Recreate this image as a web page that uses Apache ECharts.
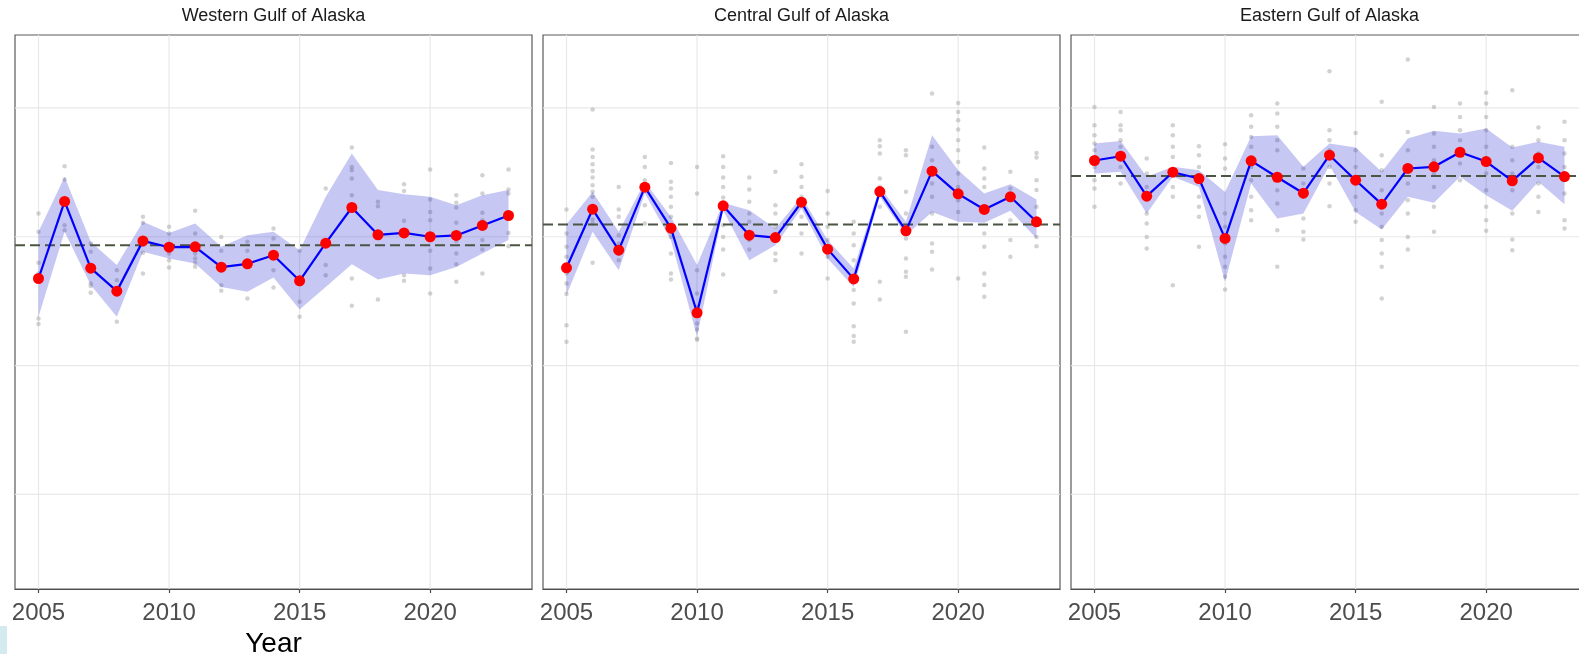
<!DOCTYPE html>
<html><head><meta charset="utf-8">
<script src="https://cdn.jsdelivr.net/npm/echarts@6/dist/echarts.min.js"></script>
<style>html,body{margin:0;padding:0;background:#fff}#c{width:1579px;height:654px}</style>
</head><body><div id="c"></div>
<script>
// ---------------- DATA ----------------
const years = [2005,2006,2007,2008,2009,2010,2011,2012,2013,2014,2015,2016,2017,2018,2019,2020,2021,2022,2023];
const panelTitles = ['Western Gulf of Alaska','Central Gulf of Alaska','Eastern Gulf of Alaska'];
const xTickYears = [2005,2010,2015,2020];
const yGridValues = [0,1,2,3];
const xAxisName = 'Year';

const westMean  = [1.676,2.274,1.756,1.578,1.968,1.919,1.922,1.764,1.790,1.857,1.658,1.950,2.227,2.015,2.030,2.000,2.010,2.088,2.165];
const westLower = [1.379,2.038,1.625,1.379,1.883,1.832,1.793,1.611,1.573,1.684,1.436,1.611,1.787,1.669,1.715,1.702,1.766,1.870,1.974];
const westUpper = [2.038,2.465,1.961,1.780,2.116,2.030,2.103,1.922,2.012,2.038,1.896,2.310,2.646,2.362,2.330,2.310,2.245,2.323,2.362];
const westRef = 1.935;
const westObs = [
[2.180,2.038,1.798,1.715,1.366,1.322],
[2.548,2.444,2.090,2.051],
[1.948,1.883,1.637,1.617,1.565],
[1.741,1.663,1.340],
[2.155,2.108,1.875,1.715],
[2.077,2.025,1.870,1.818,1.761],
[2.201,2.025,1.870,1.831,1.798,1.767],
[1.999,1.891,1.624,1.580],
[1.961,1.891,1.521],
[2.064,1.986,1.741,1.606],
[1.891,1.495,1.379],
[2.374,1.780,1.702],
[2.692,2.542,2.517,2.452,2.323,1.676,1.464],
[2.271,2.237,1.513],
[2.408,2.356,2.124,1.702,1.658],
[2.522,2.289,2.193,2.129,1.891,1.754,1.560],
[2.323,2.263,2.227,2.108,1.968,1.870,1.787,1.650],
[2.478,2.336,2.186,2.129,1.974,1.901,1.715],
[2.522,2.367,2.336,2.030,1.927]
];

const centralMean  = [1.759,2.214,1.896,2.385,2.067,1.410,2.240,2.012,1.994,2.268,1.904,1.673,2.351,2.046,2.509,2.333,2.212,2.310,2.116];
const centralLower = [1.547,2.038,1.741,2.336,1.974,1.223,2.206,1.818,1.935,2.220,1.832,1.611,2.310,2.012,2.193,2.116,2.108,2.201,1.987];
const centralUpper = [2.098,2.348,2.038,2.426,2.154,1.780,2.263,2.206,2.064,2.310,1.974,1.754,2.387,2.116,2.788,2.517,2.336,2.408,2.289];
const centralRef = 2.095;
const centralObs = [
[2.211,2.025,1.922,1.844,1.715,1.637,1.555,1.314,1.185],
[2.987,2.677,2.620,2.563,2.511,2.460,2.400,2.349,2.310,2.134,2.103,1.798],
[2.387,2.211,2.155,2.012,1.948,1.870,1.818],
[2.620,2.542,2.439,2.245,2.103],
[2.573,2.426,2.374,2.310,2.232,2.155,1.999,1.870,1.715,1.668],
[2.542,2.336,1.741,1.560,1.456,1.327,1.280,1.211,1.200],
[2.625,2.542,2.460,2.387,2.305,2.090,1.999,1.901,1.707],
[2.460,2.367,2.271,2.181,2.116,1.974,1.901],
[2.504,2.245,2.181,2.077,1.870,1.818,1.573],
[2.563,2.465,2.387,2.310,2.155,2.025,1.870],
[2.356,2.181,2.077,1.974,1.844,1.676],
[2.116,2.025,1.935,1.818,1.586,1.482,1.306,1.230,1.185],
[2.749,2.703,2.646,2.452,2.387,2.232,1.650,1.513],
[2.672,2.633,2.349,2.181,1.986,1.831,1.728,1.689,1.262],
[3.111,2.698,2.594,2.413,2.310,2.181,1.948,1.883,1.746],
[3.039,2.969,2.904,2.832,2.749,2.672,2.581,2.491,2.387,2.284,2.193,1.676],
[2.692,2.529,2.452,2.387,2.232,2.025,1.922,1.715,1.625,1.534],
[2.504,2.374,2.284,2.129,1.974,1.844],
[2.651,2.615,2.439,2.362,2.232,1.999,1.927]
];

const eastMean  = [2.592,2.625,2.315,2.501,2.452,1.987,2.589,2.462,2.338,2.633,2.439,2.253,2.530,2.543,2.656,2.584,2.434,2.612,2.467];
const eastLower = [2.491,2.504,2.181,2.465,2.387,1.650,2.413,2.142,2.181,2.555,2.193,2.057,2.310,2.263,2.465,2.323,2.201,2.426,2.253];
const eastUpper = [2.724,2.744,2.465,2.543,2.517,2.348,2.780,2.788,2.543,2.724,2.693,2.504,2.763,2.822,2.801,2.840,2.693,2.737,2.698];
const eastRef = 2.472;
const eastObs = [
[3.008,2.866,2.788,2.724,2.672,2.542,2.439,2.374,2.232],
[2.969,2.866,2.827,2.749,2.698,2.542,2.413],
[2.607,2.491,2.387,2.181,2.103,1.999,1.909],
[2.866,2.788,2.698,2.620,2.491,2.387,2.310,1.624],
[2.703,2.633,2.542,2.439,2.310,2.232,2.155,1.922],
[2.718,2.607,2.529,2.181,2.077,1.948,1.844,1.767,1.689,1.591],
[2.943,2.853,2.775,2.698,2.542,2.439,2.310,2.206,2.129],
[3.034,2.956,2.853,2.749,2.672,2.361,2.258,2.051,1.767],
[2.529,2.413,2.310,2.142,2.038,1.978],
[3.285,2.827,2.749,2.672,2.542,2.413,2.237],
[2.806,2.672,2.542,2.439,2.310,2.206,2.116],
[3.047,2.633,2.516,2.361,2.181,2.077,1.974,1.870,1.767,1.521],
[3.375,2.814,2.672,2.542,2.413,2.284,2.181,1.999,1.901],
[3.008,2.801,2.698,2.594,2.491,2.387,2.232,2.038],
[3.034,2.930,2.827,2.749,2.672,2.568,2.439],
[3.117,3.034,2.930,2.827,2.698,2.594,2.491,2.361,2.232,2.129,2.046],
[3.137,2.698,2.594,2.491,2.361,2.181,1.978,1.896],
[2.848,2.749,2.646,2.542,2.413,2.310,2.193],
[2.892,2.749,2.646,2.542,2.439,2.336,2.129,2.064]
];

// ---------------- LAYOUT / STYLE ----------------
const FONT = "'Liberation Sans', Arial, Helvetica, sans-serif";
const X_MIN = 2004.1, X_MAX = 2023.9;
const Y_MIN = -0.734, Y_MAX = 3.566;
const gridLefts = [15, 543, 1071];
const GRID_W = 517, GRID_TOP = 35, GRID_H = 554;

const panels = [
  {mean: westMean, lower: westLower, upper: westUpper, ref: westRef, obs: westObs},
  {mean: centralMean, lower: centralLower, upper: centralUpper, ref: centralRef, obs: centralObs},
  {mean: eastMean, lower: eastLower, upper: eastUpper, ref: eastRef, obs: eastObs}
];

function hLineSeries(gi, values, style, z) {
  return {
    type: 'custom', xAxisIndex: gi, yAxisIndex: gi, z: z, silent: true, clip: false,
    data: values.map(v => [v]), encode: {y: 0},
    renderItem: function (params, api) {
      const cs = params.coordSys;
      const y = api.coord([X_MIN, api.value(0)])[1];
      return {type: 'line', shape: {x1: cs.x, y1: y, x2: cs.x + cs.width, y2: y}, style: style};
    }
  };
}
function vLineSeries(gi, values, style, z) {
  return {
    type: 'custom', xAxisIndex: gi, yAxisIndex: gi, z: z, silent: true, clip: false,
    data: values.map(v => [v]), encode: {x: 0},
    renderItem: function (params, api) {
      const cs = params.coordSys;
      const x = api.coord([api.value(0), Y_MIN])[0];
      return {type: 'line', shape: {x1: x, y1: cs.y, x2: x, y2: cs.y + cs.height}, style: style};
    }
  };
}
function bandSeries(gi, lower, upper, z) {
  return {
    type: 'custom', xAxisIndex: gi, yAxisIndex: gi, z: z, silent: true, clip: false,
    data: years.map((y, i) => [y, lower[i], upper[i]]), encode: {x: 0, y: [1, 2]},
    renderItem: function (params, api) {
      if (params.dataIndex !== 0) return null;
      const pts = [];
      for (let i = 0; i < years.length; i++) pts.push(api.coord([years[i], upper[i]]));
      for (let i = years.length - 1; i >= 0; i--) pts.push(api.coord([years[i], lower[i]]));
      return {type: 'polygon', shape: {points: pts}, style: {fill: 'rgba(20,20,210,0.24)'}};
    }
  };
}

const grids = [], xAxes = [], yAxes = [], series = [], titles = [];
panels.forEach((p, gi) => {
  grids.push({left: gridLefts[gi], top: GRID_TOP, width: GRID_W, height: GRID_H,
    outerBoundsMode: 'none', containLabel: false,
    show: true, borderColor: '#5a5a5a', borderWidth: 1.2, backgroundColor: 'transparent'});
  titles.push({text: panelTitles[gi], left: gridLefts[gi] + GRID_W / 2, top: 7, textAlign: 'center', padding: 0,
    textStyle: {fontFamily: FONT, fontSize: 18, fontWeight: 'normal', color: '#1a1a1a'}});
  xAxes.push({
    type: 'value', gridIndex: gi, min: X_MIN, max: X_MAX,
    name: gi === 0 ? xAxisName : '', nameLocation: 'middle', nameGap: 38,
    nameTextStyle: {fontFamily: FONT, fontSize: 28, color: '#000'},
    axisLine: {show: true, onZero: false, lineStyle: {color: '#4d4d4d', width: 1.2}},
    axisTick: {show: true, length: 4, customValues: xTickYears, lineStyle: {color: '#4d4d4d', width: 1.2}},
    axisLabel: {show: true, customValues: xTickYears, margin: 12, fontFamily: FONT, fontSize: 24, color: '#4d4d4d',
      formatter: v => String(v)},
    splitLine: {show: false}
  });
  yAxes.push({
    type: 'value', gridIndex: gi, min: Y_MIN, max: Y_MAX,
    axisLine: {show: false}, axisTick: {show: false}, axisLabel: {show: false}, splitLine: {show: false}
  });
  const gridStyle = {stroke: '#e8e8e8', lineWidth: 1.2};
  series.push(hLineSeries(gi, yGridValues, gridStyle, 0));
  series.push(vLineSeries(gi, xTickYears, gridStyle, 0));
  // observations
  const obsData = [];
  p.obs.forEach((vals, i) => vals.forEach(v => obsData.push([years[i], v])));
  series.push({type: 'scatter', xAxisIndex: gi, yAxisIndex: gi, z: 1, silent: true,
    symbolSize: 4.5, itemStyle: {color: 'rgba(160,160,160,0.6)'}, data: obsData});
  // confidence band
  series.push(bandSeries(gi, p.lower, p.upper, 2));
  // reference dashed line
  series.push(hLineSeries(gi, [p.ref], {stroke: '#4b5543', lineWidth: 2, lineDash: [10, 5]}, 3));
  // mean line + points
  series.push({type: 'line', xAxisIndex: gi, yAxisIndex: gi, z: 4, silent: true,
    symbol: 'circle', symbolSize: 11, showSymbol: true,
    lineStyle: {color: '#0000ff', width: 2.2}, itemStyle: {color: '#ff0000', borderWidth: 0},
    data: years.map((y, i) => [y, p.mean[i]])});
});

const chart = echarts.init(document.getElementById('c'), null, {renderer: 'canvas'});
chart.setOption({
  animation: false,
  backgroundColor: '#ffffff',
  textStyle: {fontFamily: FONT},
  title: titles,
  grid: grids,
  xAxis: xAxes,
  yAxis: yAxes,
  series: series,
  graphic: [{type: 'rect', left: 0, top: 626, shape: {width: 7, height: 28}, style: {fill: '#d3eaee'}, silent: true}]
});
</script></body></html>
